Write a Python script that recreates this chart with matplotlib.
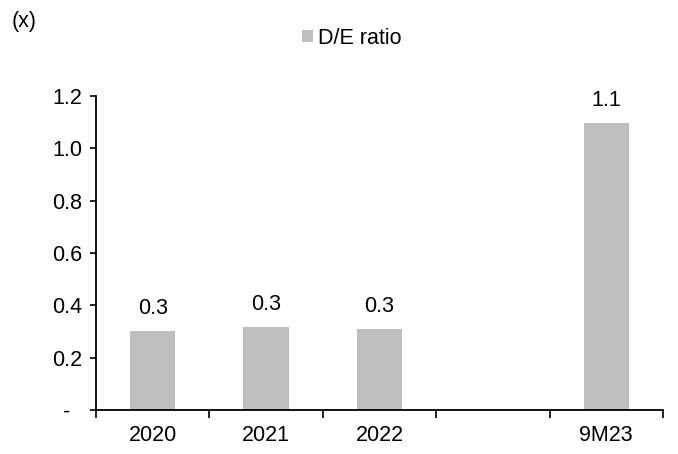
import matplotlib.pyplot as plt

categories = ["2020", "2021", "2022", "", "9M23"]
de_ratio = [0.303, 0.317, 0.309, None, 1.096]
value_labels = ["0.3", "0.3", "0.3", None, "1.1"]
yticks = [0.0, 0.2, 0.4, 0.6, 0.8, 1.0, 1.2]
ytick_labels = ["-\u2007", "0.2", "0.4", "0.6", "0.8", "1.0", "1.2"]

plt.rcParams["font.family"] = ["Liberation Sans", "DejaVu Sans"]
plt.rcParams["font.size"] = 15.5

fig = plt.figure(figsize=(6.78, 4.54), dpi=100)
ax = fig.add_axes([96 / 678, 1 - 410 / 454, (663 - 96) / 678, (410 - 96) / 454])

xs = [i for i, v in enumerate(de_ratio) if v is not None]
vals = [v for v in de_ratio if v is not None]
bars = ax.bar(xs, vals, width=0.4, color="#bfbfbf", label="D/E ratio")

for x, v, lab in zip(xs, vals, [l for l in value_labels if l is not None]):
    ax.annotate(lab, (x, v), xytext=(0, 8.5), textcoords="offset points",
                ha="center", va="bottom")

ax.set_xlim(-0.5, len(categories) - 0.5)
ax.set_ylim(0, 1.2)
ax.set_yticks(yticks)
ax.set_yticklabels(ytick_labels)
ax.set_xticks(range(len(categories)))
ax.set_xticklabels(categories)
# tick marks sit on the category boundaries
ax.set_xticks([i - 0.5 for i in range(len(categories) + 1)], minor=True)
ax.tick_params(axis="x", which="major", length=0, pad=10.5)
ax.tick_params(axis="x", which="minor", length=6, width=1.2, direction="out")
ax.tick_params(axis="y", length=4.5, width=1.2, direction="out", pad=5.5)

for side in ["top", "right"]:
    ax.spines[side].set_visible(False)
for side in ["left", "bottom"]:
    ax.spines[side].set_linewidth(1.3)

fig.text(12 / 678, 1 - 21 / 454, "(x)", ha="left", va="center")
fig.legend(handles=[bars], loc="center", bbox_to_anchor=(352 / 678, 1 - 38 / 454),
           frameon=False, handlelength=0.5, handleheight=0.5, handletextpad=0.25)

fig.savefig("out.png", dpi=100)
